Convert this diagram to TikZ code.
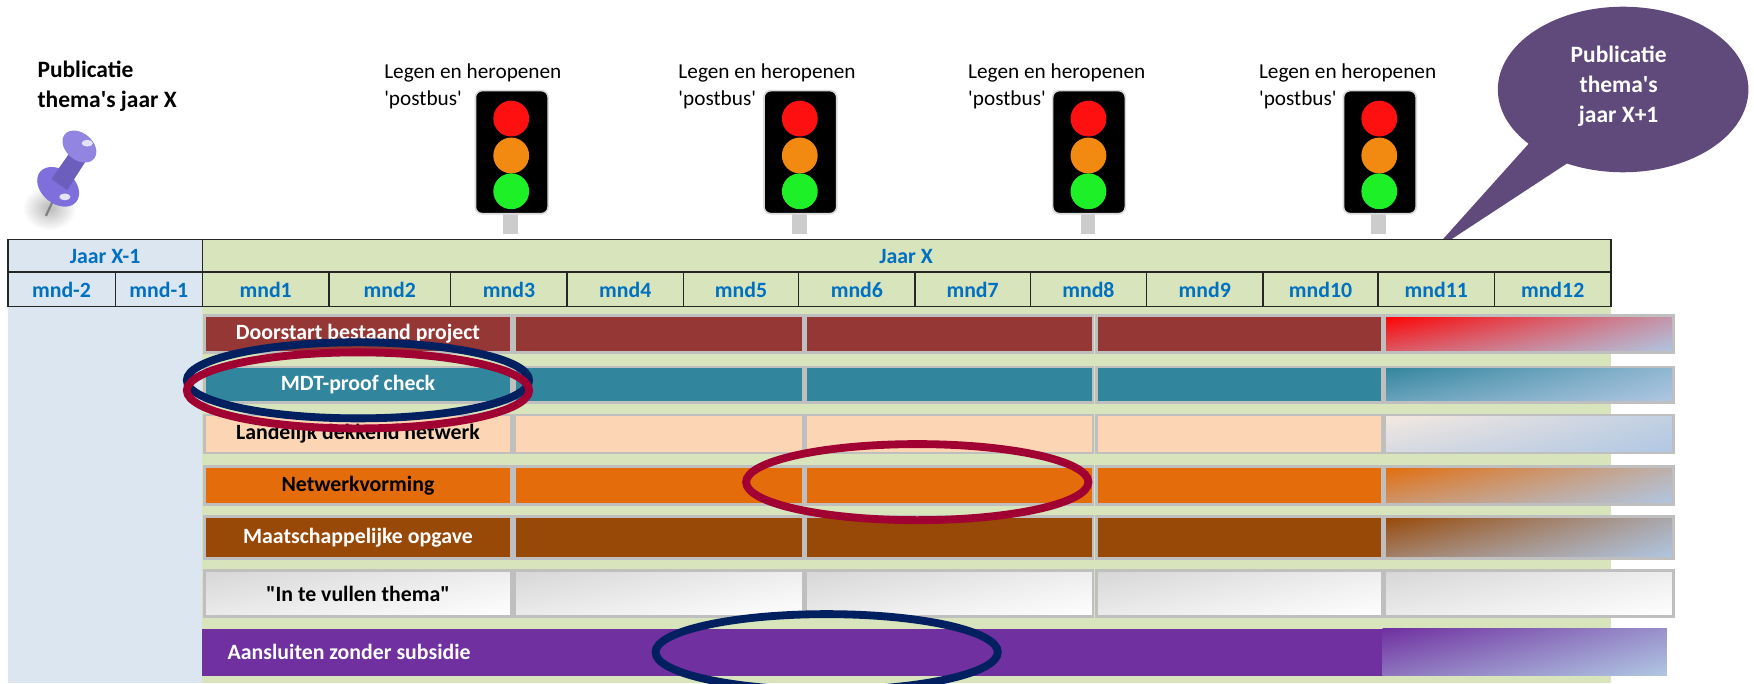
\documentclass[tikz,border=0pt]{standalone}
\usepackage{fontspec}
\setmainfont{Carlito}[Ligatures=TeXOff]
\usetikzlibrary{shadings}
\definecolor{jaarblue}{HTML}{DCE6F1}
\definecolor{jaargreen}{HTML}{D8E4BC}
\definecolor{headblue}{HTML}{0070C0}
\definecolor{doorC}{HTML}{953735}
\definecolor{mdtC}{HTML}{31859C}
\definecolor{landC}{HTML}{FCD5B5}
\definecolor{landF}{HTML}{F5E9E0}
\definecolor{netC}{HTML}{E46C0A}
\definecolor{maatC}{HTML}{984807}
\definecolor{aansC}{HTML}{7030A0}
\definecolor{fadeC}{HTML}{B0C7E3}
\definecolor{edgeC}{HTML}{BFBFBF}
\definecolor{bubbleC}{HTML}{604A7B}
\definecolor{ringblue}{HTML}{002060}
\definecolor{ringred}{HTML}{A00032}
\definecolor{pinC}{HTML}{7F6FDD}
\definecolor{lampred}{HTML}{FF1010}
\definecolor{lamporange}{HTML}{F28A12}
\definecolor{lampgreen}{HTML}{1EF028}

\begin{document}
\begin{tikzpicture}[
  x=1pt, y=-1pt,
  grid/.style={draw=black!85, line width=1.2pt},
  headtext/.style={text=headblue, font=\bfseries\fontsize{19.5}{22}\selectfont},
  bar/.style={draw=edgeC, line width=2.5pt},
  bartext/.style={font=\bfseries\fontsize{19.5}{22}\selectfont},
  lamplabel/.style={anchor=base west, font=\fontsize{19}{22}\selectfont},
  titletext/.style={anchor=base west, font=\bfseries\fontsize{21}{24}\selectfont},
  ring/.style={line width=7pt},
]
\useasboundingbox (0,0) rectangle (1568,611);

\shade [inner color=gray!55, outer color=white] (44,186) ellipse [x radius=24, y radius=20];
\draw [line width=2pt, gray] (41,193) -- (49,176);
\fill [pinC, rotate around={-40:(52,167)}] (52,167) ellipse [x radius=21, y radius=15];
\fill [pinC!85!black] (46,160) -- (64,134) -- (78,142) -- (60,170) -- cycle;
\fill [pinC!85!white, rotate around={-40:(71,131)}] (71,131) ellipse [x radius=17, y radius=12];
\fill [white!80!pinC] (78,128) ellipse [x radius=5, y radius=3];
\fill [white!80!pinC] (58,176) ellipse [x radius=5, y radius=3];

\node [titletext] (pubA) at (30,69) {Publicatie};
\node [titletext] (pubB) at (30,96) {thema's jaar X};

\foreach \xl/\xc [count=\i] in {340/457,603/715,862/973,1122/1233} {
  \node [lamplabel] (legen\i) at (\xl,70) {Legen en heropenen};
  \node [lamplabel] (postbus\i) at (\xl,94) {'postbus'};
  \fill [gray!40] (\xc-7,191) rectangle (\xc+6,209);
  \draw [fill=black, draw=gray!30, line width=1.5pt, rounded corners=6] (\xc-32,81) rectangle (\xc+33,191);
  \fill [lampred] (\xc,106) circle [radius=16];
  \fill [lamporange] (\xc,139) circle [radius=16];
  \fill [lampgreen] (\xc,171) circle [radius=16];
}

\fill [bubbleC] (1451,80) ellipse [x radius=112, y radius=74];
\fill [bubbleC] (1367,128) -- (1279,226) -- (1401,146) -- cycle;
\node [align=center, text=white, font=\bfseries\fontsize{21}{27}\selectfont] (pubnext) at (1447,77) {Publicatie\\thema's\\jaar X+1};

\fill [jaarblue] (7,214) rectangle (181,611);
\fill [jaargreen] (181,214) rectangle (1440,611);
\draw [grid] (7,214) rectangle (1440,274);
\draw [grid] (7,243) -- (1440,243);
\draw [grid] (181,214) -- (181,274);
\foreach \x in {103,294,403,507,611,714,818,921,1025,1129,1232,1336}
  \draw [grid] (\x,243) -- (\x,274);

\node [headtext] (jaarprev) at (94,229) {Jaar X-1};
\node [headtext] (jaar) at (810,229) {Jaar X};
\node [headtext] (mndm2) at (55,259) {mnd-2};
\node [headtext] (mndm1) at (142,259) {mnd-1};
\foreach \xa/\xb [count=\i] in {181/294,294/403,403/507,507/611,611/714,714/818,818/921,921/1025,1025/1129,1129/1232,1232/1336,1336/1440}
  \node [headtext] (mnd\i) at ({(\xa+\xb)/2},259) {mnd\i};

\foreach \ya/\yb/\col/\fade/\tcol/\lab/\nm in {
  282/315/doorC/red/white/{Doorstart bestaand project}/door,
  328/360/mdtC/mdtC/white/{MDT-proof check}/mdt,
  371/405/landC/landF/black/{Landelijk dekkend netwerk}/land,
  417/451/netC/netC/black/{Netwerkvorming}/net,
  462/499/maatC/maatC/white/{Maatschappelijke opgave}/maat} {
  \foreach \xa/\xb in {183/457,460/718,720/977,980/1236}
    \draw [bar, fill=\col] (\xa,\ya) rectangle (\xb,\yb);
  \draw [bar, shade, upper left=\fade, upper right=fadeC!75!\fade, lower left=fadeC!45!\fade, lower right=fadeC] (1238,\ya) rectangle (1496,\yb);
  \node [bartext, text=\tcol] (\nm) at (320,{(\ya+\yb)/2}) {\lab};
}

\foreach \xa/\xb in {183/457,460/718,720/977,980/1236,1238/1496}
  \draw [bar, shade, upper left=gray!32, upper right=gray!14, lower left=gray!16, lower right=white] (\xa,510) rectangle (\xb,551);
\node [bartext] (thema) at (320,531) {"In te vullen thema"};

\fill [aansC] (181,562) rectangle (1236,604);
\shade [upper left=aansC, upper right=fadeC!65!aansC, lower left=fadeC!45!aansC, lower right=fadeC] (1236,562) rectangle (1490,604);
\node [bartext, text=white, anchor=west] (aans) at (200,583) {Aansluiten zonder subsidie};

\draw [ring, ringblue] (320,340) ellipse [x radius=153, y radius=34];
\draw [ring, ringred] (320,349) ellipse [x radius=153, y radius=34];
\draw [ring, ringred] (820,431) ellipse [x radius=153, y radius=34];
\draw [ring, ringblue] (739,583) ellipse [x radius=153, y radius=34];

\end{tikzpicture}
\end{document}
